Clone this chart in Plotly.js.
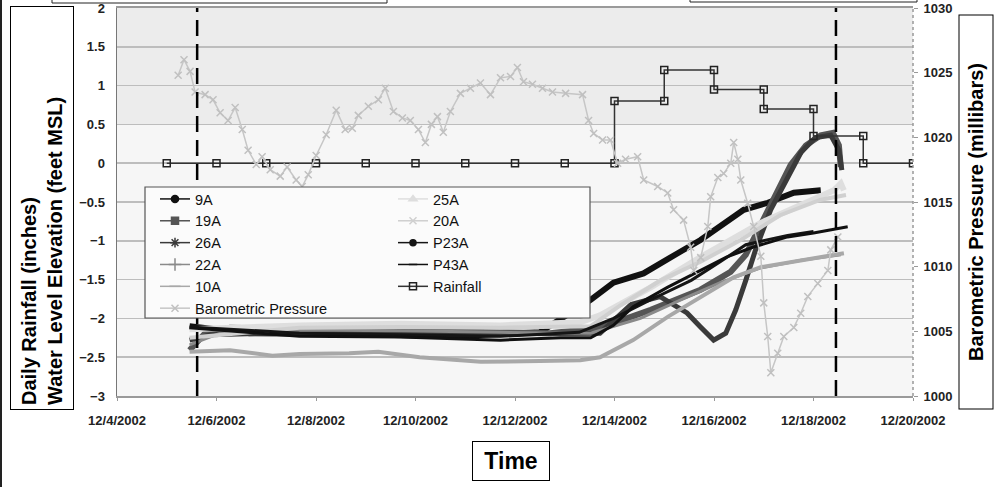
<!DOCTYPE html>
<html>
<head>
<meta charset="utf-8">
<script src="https://cdn.plot.ly/plotly-3.0.1.min.js"></script>
<style>html,body{margin:0;padding:0;background:#fff}#chart{width:995px;height:487px}</style>
</head>
<body>
<div id="chart"></div>
<script>
// ---------- data ----------
const t9A = ['2002-12-05 11:00','2002-12-06 16:00','2002-12-08 16:00','2002-12-10 17:00','2002-12-12 12:00','2002-12-13 12:30','2002-12-13 23:30','2002-12-14 14:00','2002-12-15 06:30','2002-12-15 17:30','2002-12-16 14:20','2002-12-17 02:00','2002-12-17 14:30','2002-12-18 03:30'];
const v9A = [-2.10,-2.19,-2.20,-2.23,-2.18,-1.76,-1.54,-1.42,-1.16,-0.99,-0.60,-0.51,-0.38,-0.35];

const t19A = ['2002-12-05 11:00','2002-12-05 18:30','2002-12-06 06:30','2002-12-08 16:00','2002-12-10 17:00','2002-12-12 17:00','2002-12-13 17:00','2002-12-14 17:30','2002-12-15 17:30','2002-12-16 08:00','2002-12-16 15:20','2002-12-16 22:30','2002-12-17 06:00','2002-12-17 13:00','2002-12-17 20:20','2002-12-18 03:30','2002-12-18 09:20','2002-12-18 12:15','2002-12-18 13:10'];
const v19A = [-2.41,-2.19,-2.12,-2.15,-2.18,-2.19,-2.12,-1.89,-1.63,-1.40,-1.18,-0.80,-0.41,-0.02,0.23,0.36,0.39,0.23,-0.05];

const t26A = ['2002-12-05 11:00','2002-12-05 21:00','2002-12-07 16:00','2002-12-09 17:00','2002-12-11 17:00','2002-12-13 17:00','2002-12-14 08:00','2002-12-14 22:00','2002-12-15 11:00','2002-12-15 17:30','2002-12-15 23:50','2002-12-16 05:40','2002-12-16 10:30','2002-12-16 15:20','2002-12-16 20:00','2002-12-17 03:20','2002-12-17 10:40','2002-12-17 18:00','2002-12-18 01:00','2002-12-18 08:20','2002-12-18 12:15','2002-12-18 13:40'];
const v26A = [-2.28,-2.21,-2.18,-2.19,-2.20,-2.19,-1.82,-1.72,-1.93,-2.11,-2.28,-2.19,-1.89,-1.51,-1.12,-0.60,-0.22,0.14,0.33,0.36,0.17,-0.09];

const t22A = ['2002-12-05 11:00','2002-12-06 01:45','2002-12-07 16:00','2002-12-09 17:00','2002-12-11 17:00','2002-12-13 12:30','2002-12-14 12:30','2002-12-15 08:00','2002-12-16 03:00','2002-12-16 22:30','2002-12-17 18:00','2002-12-18 13:10'];
const v22A = [-2.34,-2.19,-2.15,-2.16,-2.18,-2.19,-2.00,-1.76,-1.54,-1.35,-1.25,-1.18];

const t10A = ['2002-12-05 11:00','2002-12-06 06:30','2002-12-07 03:00','2002-12-07 16:00','2002-12-08 16:00','2002-12-09 06:00','2002-12-10 02:00','2002-12-11 07:30','2002-12-12 12:00','2002-12-13 07:30','2002-12-13 17:00','2002-12-14 09:00','2002-12-15 01:40','2002-12-15 17:30','2002-12-16 09:30','2002-12-16 22:30','2002-12-17 18:00','2002-12-18 14:40'];
const v10A = [-2.43,-2.41,-2.48,-2.46,-2.45,-2.43,-2.50,-2.56,-2.55,-2.54,-2.50,-2.28,-1.98,-1.72,-1.47,-1.34,-1.25,-1.16];

const t25A = ['2002-12-05 11:00','2002-12-07 16:00','2002-12-09 17:00','2002-12-11 17:00','2002-12-13 07:30','2002-12-13 17:00','2002-12-14 17:30','2002-12-15 17:30','2002-12-16 22:30','2002-12-17 18:00','2002-12-18 09:50','2002-12-18 13:10','2002-12-18 14:40'];
const v25A = [-2.14,-2.09,-2.07,-2.09,-2.05,-1.96,-1.60,-1.21,-0.77,-0.54,-0.35,-0.26,-0.35];

const t20A = ['2002-12-05 11:00','2002-12-07 16:00','2002-12-09 17:00','2002-12-11 17:00','2002-12-13 12:30','2002-12-14 03:00','2002-12-14 22:15','2002-12-15 17:30','2002-12-16 12:55','2002-12-17 07:50','2002-12-18 03:30','2002-12-18 15:40'];
const v20A = [-2.25,-2.12,-2.11,-2.12,-2.10,-1.83,-1.51,-1.27,-0.99,-0.67,-0.47,-0.41];

const tP23A = ['2002-12-05 11:00','2002-12-07 16:00','2002-12-09 17:00','2002-12-11 17:00','2002-12-13 07:00','2002-12-13 23:30','2002-12-14 17:30','2002-12-15 13:00','2002-12-16 03:00','2002-12-16 15:20','2002-12-17 11:30','2002-12-18 00:00'];
const vP23A = [-2.11,-2.19,-2.21,-2.23,-2.18,-2.00,-1.76,-1.51,-1.27,-1.05,-0.93,-0.88];

const tP43A = ['2002-12-05 11:00','2002-12-07 16:00','2002-12-09 17:00','2002-12-11 17:00','2002-12-12 22:00','2002-12-13 12:30','2002-12-13 23:30','2002-12-14 09:00','2002-12-15 01:30','2002-12-15 17:30','2002-12-16 06:00','2002-12-16 19:00','2002-12-17 11:30','2002-12-18 00:00','2002-12-18 16:30'];
const vP43A = [-2.12,-2.23,-2.24,-2.28,-2.25,-2.25,-2.09,-1.85,-1.60,-1.38,-1.21,-1.08,-0.95,-0.90,-0.82];

const rainDates = ['2002-12-05','2002-12-06','2002-12-07','2002-12-08','2002-12-09','2002-12-10','2002-12-11','2002-12-12','2002-12-13','2002-12-14','2002-12-14','2002-12-15','2002-12-15','2002-12-16','2002-12-16','2002-12-17','2002-12-17','2002-12-18','2002-12-18','2002-12-19','2002-12-19','2002-12-20'];
const rainInches = [0,0,0,0,0,0,0,0,0,0,0.8,0.8,1.2,1.2,0.95,0.95,0.7,0.7,0.35,0.35,0,0];

const baroTime = ['2002-12-05 05:30','2002-12-05 08:20','2002-12-05 11:15','2002-12-05 13:40','2002-12-05 18:30','2002-12-05 22:20','2002-12-06 01:45','2002-12-06 05:35','2002-12-06 09:00','2002-12-06 12:25','2002-12-06 15:15','2002-12-06 19:10','2002-12-06 22:00','2002-12-07 01:55','2002-12-07 06:45','2002-12-07 10:05','2002-12-07 14:25','2002-12-07 17:20','2002-12-07 20:15','2002-12-08 00:05','2002-12-08 04:55','2002-12-08 09:45','2002-12-08 14:05','2002-12-08 17:30','2002-12-08 20:25','2002-12-09 01:15','2002-12-09 06:05','2002-12-09 09:25','2002-12-09 13:20','2002-12-09 17:40','2002-12-09 21:30','2002-12-10 01:25','2002-12-10 04:45','2002-12-10 07:40','2002-12-10 10:35','2002-12-10 13:25','2002-12-10 16:50','2002-12-10 21:40','2002-12-11 02:30','2002-12-11 07:20','2002-12-11 12:10','2002-12-11 17:00','2002-12-11 21:50','2002-12-12 01:10','2002-12-12 04:05','2002-12-12 08:25','2002-12-12 13:15','2002-12-12 18:05','2002-12-13 00:25','2002-12-13 08:35','2002-12-13 11:30','2002-12-13 13:55','2002-12-13 18:15','2002-12-13 22:05','2002-12-14 01:30','2002-12-14 05:20','2002-12-14 11:10','2002-12-14 14:05','2002-12-14 20:50','2002-12-15 01:40','2002-12-15 04:30','2002-12-15 09:20','2002-12-15 12:45','2002-12-15 14:15','2002-12-15 17:35','2002-12-15 21:00','2002-12-15 22:25','2002-12-16 01:50','2002-12-16 04:40','2002-12-16 08:05','2002-12-16 09:30','2002-12-16 11:30','2002-12-16 12:55','2002-12-16 16:15','2002-12-16 19:10','2002-12-16 22:35','2002-12-17 00:00','2002-12-17 01:55','2002-12-17 03:25','2002-12-17 06:45','2002-12-17 09:40','2002-12-17 14:30','2002-12-17 17:50','2002-12-17 21:15','2002-12-18 02:05','2002-12-18 06:55','2002-12-18 08:20','2002-12-18 11:45'];
const baroMbar = [1024.8,1026.0,1025.1,1023.5,1023.3,1022.9,1021.9,1021.3,1022.3,1020.6,1019.0,1017.9,1018.5,1017.5,1017.0,1017.7,1016.7,1016.2,1017.1,1018.6,1020.2,1022.1,1020.6,1020.7,1021.7,1022.4,1022.9,1023.8,1022.0,1021.5,1021.3,1020.6,1019.6,1021.0,1021.6,1020.4,1022.0,1023.4,1023.8,1024.2,1023.3,1024.6,1024.7,1025.4,1024.3,1024.1,1023.8,1023.5,1023.4,1023.3,1021.3,1020.3,1019.8,1019.8,1018.0,1018.3,1018.5,1016.7,1016.2,1015.7,1014.4,1013.6,1011.5,1009.7,1010.7,1013.1,1015.4,1016.9,1017.2,1018.0,1019.6,1018.3,1016.7,1014.9,1013.1,1010.8,1007.2,1004.6,1001.8,1003.3,1004.6,1005.3,1006.4,1007.7,1008.7,1009.7,1011.3,1012.3];

const eventDates = ['2002-12-05 14:40','2002-12-18 10:50'];

// ---------- styles ----------
const wells = [
  {name:'9A',   t:t9A,   v:v9A,   color:'#111111', width:6, sym:'circle',          ms:7, leg:'legend',  rank:1},
  {name:'19A',  t:t19A,  v:v19A,  color:'#555555', width:6, sym:'square',          ms:7, leg:'legend',  rank:2},
  {name:'26A',  t:t26A,  v:v26A,  color:'#3a3a3a', width:5, sym:'asterisk-open',   ms:8, leg:'legend',  rank:3},
  {name:'22A',  t:t22A,  v:v22A,  color:'#8a8a8a', width:3, sym:'cross-thin-open', ms:9, leg:'legend',  rank:4},
  {name:'10A',  t:t10A,  v:v10A,  color:'#a8a8a8', width:4, sym:'line-ew-open',    ms:8, leg:'legend',  rank:5},
  {name:'25A',  t:t25A,  v:v25A,  color:'#dedede', width:6, sym:'triangle-up',     ms:7, leg:'legend2', rank:7},
  {name:'20A',  t:t20A,  v:v20A,  color:'#d0d0d0', width:4, sym:'x-thin-open',     ms:7, leg:'legend2', rank:8},
  {name:'P23A', t:tP23A, v:vP23A, color:'#151515', width:3, sym:'circle',          ms:6, leg:'legend2', rank:9},
  {name:'P43A', t:tP43A, v:vP43A, color:'#101010', width:3, sym:'line-ew-open',    ms:6, leg:'legend2', rank:10}
];

const traces = [];
wells.forEach(w => {
  traces.push({
    x: w.t, y: w.v, type:'scatter', mode:'lines', name:w.name,
    line:{color:w.color, width:w.width}, showlegend:false, hoverinfo:'x+y+name'
  });
});
wells.forEach(w => {
  traces.push({
    x:[null], y:[null], type:'scatter', mode:'lines+markers', name:w.name,
    legend:w.leg, legendrank:w.rank,
    line:{color:w.color, width:1.5},
    marker:{symbol:w.sym, size:w.ms, color:w.color, line:{color:w.color, width:1.5}}
  });
});
traces.push({
  x: baroTime, y: baroMbar, yaxis:'y2', type:'scatter', mode:'lines+markers',
  name:'Barometric Pressure', legend:'legend', legendrank:6,
  line:{color:'#c6c6c6', width:1.5},
  marker:{symbol:'x-thin-open', size:7, color:'#c0c0c0', line:{color:'#c0c0c0', width:1.5}}
});
traces.push({
  x: rainDates, y: rainInches, type:'scatter', mode:'lines+markers',
  name:'Rainfall', legend:'legend2', legendrank:11,
  line:{color:'#333333', width:1.5},
  marker:{symbol:'square-open', size:7, color:'#222222', line:{color:'#222222', width:1.5}}
});

// ---------- layout ----------
const L = 117, R = 913, T = 8, B = 396;
const px = X => (X - L) / (R - L);
const py = Y => (B - Y) / (B - T);
const tickFont = {family:'Liberation Sans, Arial, sans-serif', size:13, color:'#222', weight:'bold'};
const legFont = {family:'Liberation Sans, Arial, sans-serif', size:14.5, color:'#111'};

const shapes = [
  {type:'rect', xref:'paper', yref:'y', x0:0, x1:1, y0:0.5, y1:2, fillcolor:'#ececec', line:{width:0}, layer:'below'}
];
eventDates.forEach(d => shapes.push({
  type:'line', xref:'x', yref:'paper', x0:d, x1:d, y0:0, y1:1,
  line:{color:'#000', width:2.5, dash:'16px,8px'}, layer:'above'
}));
shapes.push(
  {type:'rect', xref:'paper', yref:'paper', x0:px(145), x1:px(590), y0:py(318), y1:py(187),
   fillcolor:'#fbfbfb', line:{color:'#555', width:1.2}, layer:'above'},
  {type:'line', xref:'paper', yref:'paper', x0:1, x1:1, y0:0, y1:1, line:{color:'#999', width:1.5, dash:'dot'}},
  {type:'rect', xref:'paper', yref:'paper', x0:px(52), x1:px(387), y0:py(3), y1:py(-10), line:{color:'#222', width:1}},
  {type:'rect', xref:'paper', yref:'paper', x0:px(690), x1:px(917), y0:py(2), y1:py(-10), line:{color:'#222', width:1}},
  {type:'line', xref:'paper', yref:'paper', x0:px(1), x1:px(1), y0:py(487), y1:py(0), line:{color:'#222', width:2}}
);

const titleFont = {family:'Liberation Sans, Arial, sans-serif', size:20, color:'#000', weight:'bold'};

const layout = {
  width:995, height:487,
  margin:{l:L, r:995-R, t:T, b:487-B, pad:0},
  paper_bgcolor:'#ffffff', plot_bgcolor:'#f6f6f6',
  font:{family:'Liberation Sans, Arial, sans-serif', color:'#222'},
  showlegend:true,
  xaxis:{
    type:'date', range:['2002-12-04','2002-12-20'], tick0:'2002-12-04', dtick:2*86400000,
    tickformat:'%-m/%-d/%Y', showgrid:false, zeroline:false,
    showline:true, linecolor:'#9a9a9a', linewidth:2, mirror:true,
    ticks:'outside', ticklen:3, tickcolor:'#999', tickfont:tickFont, ticklabelstandoff:8
  },
  yaxis:{
    range:[-3,2], tick0:0, dtick:0.5, gridcolor:'#bdbdbd', gridwidth:1.5, zeroline:false,
    showline:true, linecolor:'#777', linewidth:1.5, ticks:'', tickfont:tickFont, ticklabelstandoff:8
  },
  yaxis2:{
    overlaying:'y', side:'right', range:[1000,1030], tick0:1000, dtick:5,
    showgrid:false, zeroline:false, showline:false,
    ticks:'outside', ticklen:4, tickcolor:'#999', tickfont:tickFont, ticklabelstandoff:3
  },
  legend:{x:px(155), xanchor:'left', y:py(183), yanchor:'top', bgcolor:'rgba(0,0,0,0)', borderwidth:0,
    font:legFont, traceorder:'normal'},
  legend2:{x:px(393), xanchor:'left', y:py(183), yanchor:'top', bgcolor:'rgba(0,0,0,0)', borderwidth:0,
    font:legFont, traceorder:'normal'},
  shapes:shapes,
  annotations:[
    {text:'Daily Rainfall (inches)<br>Water Level Elevation (feet MSL)', textangle:-90,
     xref:'paper', yref:'paper', x:px(42), y:py(208), xanchor:'center', yanchor:'middle',
     showarrow:false, align:'left', width:394, height:54, font:titleFont,
     bordercolor:'#000', borderwidth:1, borderpad:4, bgcolor:'#fff'},
    {text:'Barometric Pressure (millibars)', textangle:-90,
     xref:'paper', yref:'paper', x:px(975.5), y:py(212), xanchor:'center', yanchor:'middle',
     showarrow:false, align:'center', width:385, height:25, font:titleFont,
     bordercolor:'#000', borderwidth:1, borderpad:4, bgcolor:'#fff'},
    {text:'Time', xref:'paper', yref:'paper', x:px(511), y:py(461), xanchor:'center', yanchor:'middle',
     showarrow:false, width:68, height:30, font:{family:'Liberation Sans, Arial, sans-serif', size:23, color:'#000', weight:'bold'},
     bordercolor:'#000', borderwidth:1, borderpad:4, bgcolor:'#fff'}
  ]
};

Plotly.newPlot('chart', traces, layout, {displayModeBar:false, staticPlot:true});
</script>
</body>
</html>
